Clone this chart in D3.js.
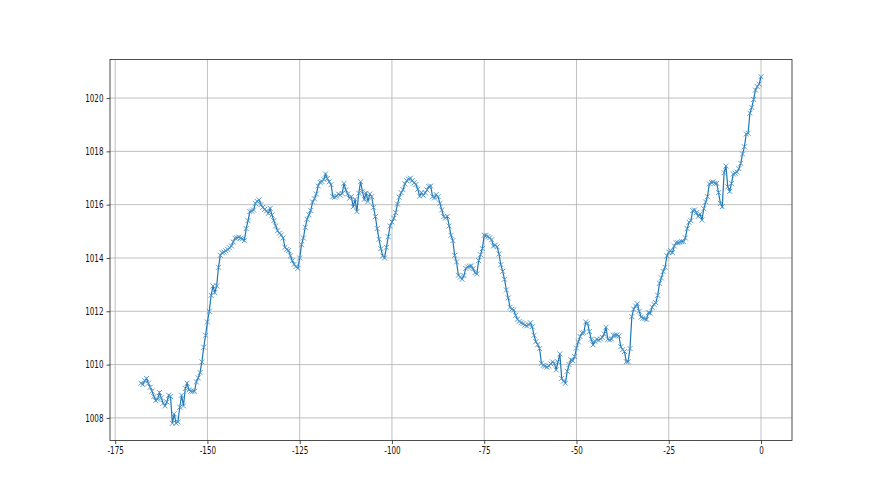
<!DOCTYPE html>
<html>
<head>
<meta charset="utf-8">
<script src="https://cdn.jsdelivr.net/npm/d3@7"></script>
<style>
  body { margin: 0; background: #fff; }
  svg { display: block; }
</style>
</head>
<body>
<svg width="880" height="495"></svg>
<script>
// half-hourly readings, from 168 hours ago up to now
var startHour = -168;
var stepHours = 0.5;
var pressure = [
    1009.30, 1009.25, 1009.40, 1009.48, 1009.30, 1009.15, 1009.00, 1008.80, 1008.65, 1008.70, // -168
    1008.95, 1008.75, 1008.55, 1008.45, 1008.60, 1008.85, 1008.80, 1007.80, 1008.15, 1007.80, // -163
    1007.85, 1008.40, 1008.85, 1008.45, 1009.10, 1009.30, 1009.05, 1009.00, 1009.00, 1009.00, // -158
    1009.35, 1009.50, 1009.70, 1010.10, 1010.65, 1011.10, 1011.60, 1012.00, 1012.60, 1012.95, // -153
    1012.70, 1012.95, 1013.65, 1014.10, 1014.20, 1014.22, 1014.27, 1014.32, 1014.38, 1014.45, // -148
    1014.60, 1014.74, 1014.76, 1014.78, 1014.74, 1014.72, 1014.65, 1015.10, 1015.40, 1015.74, // -143
    1015.76, 1015.80, 1016.05, 1016.12, 1016.18, 1016.00, 1015.90, 1015.82, 1015.76, 1015.67, // -138
    1015.86, 1015.61, 1015.40, 1015.20, 1015.02, 1014.93, 1014.86, 1014.75, 1014.40, 1014.32, // -133
    1014.28, 1014.08, 1013.90, 1013.76, 1013.68, 1013.61, 1014.00, 1014.50, 1014.75, 1015.15, // -128
    1015.45, 1015.62, 1015.78, 1016.10, 1016.22, 1016.40, 1016.70, 1016.84, 1016.87, 1016.95, // -123
    1017.15, 1016.98, 1016.86, 1016.75, 1016.30, 1016.28, 1016.32, 1016.40, 1016.36, 1016.42, // -118
    1016.80, 1016.55, 1016.40, 1016.24, 1016.30, 1015.92, 1016.20, 1015.74, 1016.43, 1016.86, // -113
    1016.50, 1016.20, 1016.43, 1016.12, 1016.40, 1016.30, 1015.90, 1015.55, 1015.10, 1014.70, // -108
    1014.35, 1014.08, 1014.00, 1014.40, 1014.80, 1015.20, 1015.35, 1015.49, 1015.70, 1016.02, // -103
    1016.28, 1016.45, 1016.56, 1016.78, 1016.90, 1016.96, 1016.99, 1016.90, 1016.82, 1016.76, // -98
    1016.58, 1016.32, 1016.45, 1016.35, 1016.45, 1016.55, 1016.68, 1016.70, 1016.30, 1016.25, // -93
    1016.38, 1016.30, 1016.05, 1015.80, 1015.55, 1015.50, 1015.56, 1015.20, 1014.85, 1014.65, // -88
    1014.10, 1013.85, 1013.35, 1013.28, 1013.20, 1013.34, 1013.61, 1013.66, 1013.69, 1013.70, // -83
    1013.60, 1013.45, 1013.40, 1013.90, 1014.12, 1014.35, 1014.85, 1014.85, 1014.80, 1014.76, // -78
    1014.68, 1014.45, 1014.48, 1014.42, 1014.15, 1013.75, 1013.50, 1013.20, 1012.80, 1012.50, // -73
    1012.15, 1012.08, 1012.05, 1011.85, 1011.70, 1011.62, 1011.57, 1011.54, 1011.48, 1011.45, // -68
    1011.49, 1011.57, 1011.42, 1011.10, 1010.86, 1010.75, 1010.60, 1010.05, 1009.97, 1009.94, // -63
    1009.90, 1009.95, 1010.03, 1010.10, 1010.05, 1009.80, 1010.10, 1010.40, 1009.48, 1009.38, // -58
    1009.30, 1009.75, 1010.00, 1010.18, 1010.15, 1010.30, 1010.62, 1010.85, 1011.05, 1011.18, // -53
    1011.20, 1011.60, 1011.55, 1011.24, 1010.95, 1010.74, 1010.88, 1010.95, 1010.92, 1010.96, // -48
    1011.02, 1011.15, 1011.40, 1010.95, 1010.93, 1010.96, 1011.10, 1011.11, 1011.11, 1011.08, // -43
    1010.67, 1010.56, 1010.49, 1010.11, 1010.11, 1010.60, 1011.80, 1012.08, 1012.20, 1012.28, // -38
    1012.00, 1011.78, 1011.74, 1011.72, 1011.70, 1011.95, 1011.93, 1012.15, 1012.26, 1012.32, // -33
    1012.60, 1013.05, 1013.25, 1013.49, 1013.65, 1014.08, 1014.22, 1014.28, 1014.20, 1014.45, // -28
    1014.57, 1014.57, 1014.59, 1014.61, 1014.61, 1014.75, 1015.10, 1015.34, 1015.40, 1015.78, // -23
    1015.80, 1015.70, 1015.56, 1015.65, 1015.42, 1015.85, 1016.10, 1016.30, 1016.78, 1016.84, // -18
    1016.85, 1016.80, 1016.80, 1016.45, 1016.05, 1015.92, 1017.20, 1017.45, 1016.67, 1016.50, // -13
    1016.80, 1017.15, 1017.18, 1017.22, 1017.35, 1017.55, 1017.90, 1018.17, 1018.65, 1018.68, // -8
    1019.43, 1019.65, 1019.95, 1020.30, 1020.43, 1020.52, 1020.80                              // -3
];
var xTicks = [-175, -150, -125, -100, -75, -50, -25, 0];
var yTicks = [1008, 1010, 1012, 1014, 1016, 1018, 1020];

var data = pressure.map(function (v, i) {
    return { hour: startHour + i * stepHours, value: v };
});

var svg = d3.select('svg');
var margin = { top: 59.4, right: 88, bottom: 54.45, left: 110 };
var width = +svg.attr('width') - margin.left - margin.right;
var height = +svg.attr('height') - margin.top - margin.bottom;

var g = svg.append('g')
    .attr('transform', 'translate(' + margin.left + ',' + margin.top + ')');

// matplotlib style 5% padding
var xExt = d3.extent(data, function (d) { return d.hour; });
var yExt = d3.extent(data, function (d) { return d.value; });
var xPad = (xExt[1] - xExt[0]) * 0.05;
var yPad = (yExt[1] - yExt[0]) * 0.05;

var xScale = d3.scaleLinear()
    .domain([xExt[0] - xPad, xExt[1] + xPad])
    .range([0, width]);

var yScale = d3.scaleLinear()
    .domain([yExt[0] - yPad, yExt[1] + yPad])
    .range([height, 0]);

// grid
g.append('g')
    .selectAll('line')
    .data(xTicks)
    .enter().append('line')
    .attr('x1', function (d) { return xScale(d); })
    .attr('x2', function (d) { return xScale(d); })
    .attr('y1', 0)
    .attr('y2', height)
    .attr('stroke', '#b0b0b0')
    .attr('stroke-width', 0.8);

g.append('g')
    .selectAll('line')
    .data(yTicks)
    .enter().append('line')
    .attr('y1', function (d) { return yScale(d); })
    .attr('y2', function (d) { return yScale(d); })
    .attr('x1', 0)
    .attr('x2', width)
    .attr('stroke', '#b0b0b0')
    .attr('stroke-width', 0.8);

var squeeze = 0.72;

var xAxis = g.append('g')
    .attr('transform', 'translate(0,' + height + ')')
    .call(d3.axisBottom(xScale)
        .tickValues(xTicks)
        .tickSizeInner(3.5)
        .tickSizeOuter(0)
        .tickPadding(3)
        .tickFormat(function (d) { return String(d); }));

var yAxis = g.append('g')
    .call(d3.axisLeft(yScale)
        .tickValues(yTicks)
        .tickSizeInner(3.5)
        .tickSizeOuter(0)
        .tickPadding(3)
        .tickFormat(function (d) { return String(d); }));

[xAxis, yAxis].forEach(function (ax) {
    ax.select('.domain').remove();
    ax.selectAll('.tick line').attr('stroke', '#222').attr('stroke-width', 0.8);
    ax.selectAll('.tick text')
        .attr('fill', '#111')
        .style('font-family', 'DejaVu Sans, sans-serif')
        .style('font-size', '10px')
        .attr('transform', 'scale(' + squeeze + ',1)');
});
yAxis.selectAll('.tick text').attr('x', -6.5 / squeeze);

// data line
g.append('path')
    .datum(data)
    .attr('d', d3.line()
        .x(function (d) { return xScale(d.hour); })
        .y(function (d) { return yScale(d.value); }))
    .attr('fill', 'none')
    .attr('stroke', '#1f77b4')
    .attr('stroke-width', 1.2);

// x markers
var m = 2.5;
g.append('g')
    .selectAll('path')
    .data(data)
    .enter().append('path')
    .attr('transform', function (d) {
        return 'translate(' + xScale(d.hour) + ',' + yScale(d.value) + ')';
    })
    .attr('d', 'M' + (-m) + ',' + (-m) + 'L' + m + ',' + m + 'M' + (-m) + ',' + m + 'L' + m + ',' + (-m))
    .attr('stroke', '#4a93c8')
    .attr('stroke-width', 0.9)
    .attr('fill', 'none');

// frame
g.append('rect')
    .attr('width', width)
    .attr('height', height)
    .attr('fill', 'none')
    .attr('stroke', '#222')
    .attr('stroke-width', 0.8);
</script>
</body>
</html>
